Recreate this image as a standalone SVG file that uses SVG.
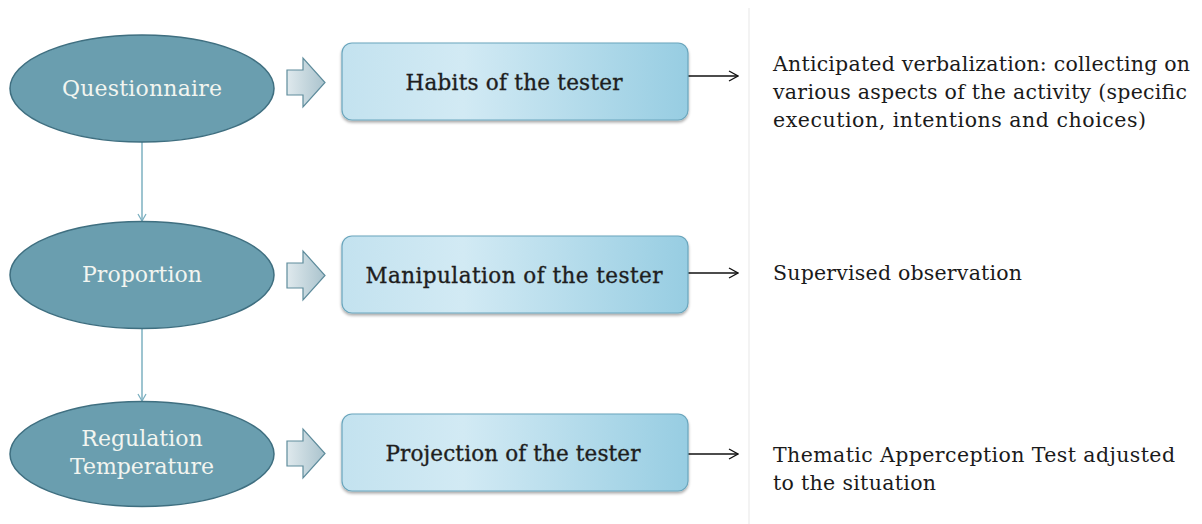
<svg xmlns="http://www.w3.org/2000/svg" width="1202" height="524" viewBox="0 0 1202 524">
<style>
.ell{fill:#6a9eaf;stroke:#3f6f80;stroke-width:1.5}
.etxt{font-family:"DejaVu Serif","Liberation Serif",serif;font-size:22px;fill:#f2f5f0;text-anchor:middle}
.box{fill:url(#boxg);stroke:#6aa6bd;stroke-width:1.2;filter:url(#sh)}
.btxt{font-family:"DejaVu Serif","Liberation Serif",serif;font-size:21.5px;fill:#1e1e1e;text-anchor:middle;stroke:#1e1e1e;stroke-width:0.35}
.blk{fill:url(#blkg);stroke:#5e8c9c;stroke-width:1.2}
.rtxt{font-family:"DejaVu Serif","Liberation Serif",serif;font-size:20.5px;fill:#1a1a1a}
.vcon{stroke:#7cb0c1;stroke-width:1.5;fill:none;marker-end:url(#va)}
.hcon{stroke:#111;stroke-width:1.3;fill:none;marker-end:url(#ha)}
</style>
<defs>
<linearGradient id="boxg" x1="0" y1="0" x2="1" y2="0">
<stop offset="0" stop-color="#c3e2ef"/>
<stop offset="0.35" stop-color="#d2eaf4"/>
<stop offset="1" stop-color="#97cde2"/>
</linearGradient>
<linearGradient id="blkg" x1="0" y1="0" x2="1" y2="0">
<stop offset="0" stop-color="#dfe9ed"/>
<stop offset="1" stop-color="#aac3cd"/>
</linearGradient>
<filter id="sh" x="-5%" y="-10%" width="110%" height="130%">
<feGaussianBlur in="SourceAlpha" stdDeviation="1.5"/>
<feOffset dx="0" dy="2" result="b"/>
<feComponentTransfer><feFuncA type="linear" slope="0.35"/></feComponentTransfer>
<feMerge><feMergeNode/><feMergeNode in="SourceGraphic"/></feMerge>
</filter>
<marker id="va" markerWidth="10" markerHeight="10" refX="8" refY="5" orient="auto" markerUnits="userSpaceOnUse">
<path d="M1,1 L8,5 L1,9" fill="none" stroke="#7cb0c1" stroke-width="1.3"/>
</marker>
<marker id="ha" markerWidth="12" markerHeight="12" refX="11" refY="6" orient="auto" markerUnits="userSpaceOnUse">
<path d="M2,1 L11,6 L2,11" fill="none" stroke="#111" stroke-width="1.3"/>
</marker>
</defs>
<rect width="1202" height="524" fill="#ffffff"/>
<line x1="749" y1="8" x2="749" y2="524" stroke="#efefef" stroke-width="1.5"/>

<g id="connectors">
<line class="vcon" x1="142" y1="142" x2="142" y2="221"/>
<line class="vcon" x1="142" y1="328" x2="142" y2="401"/>
<line class="hcon" x1="688" y1="76" x2="738" y2="76"/>
<line class="hcon" x1="688" y1="273" x2="738" y2="273"/>
<line class="hcon" x1="688" y1="454" x2="738" y2="454"/>
<path class="blk" d="M287,70 L303,70 L303,58 L325,82.5 L303,107 L303,95 L287,95 Z"/>
<path class="blk" d="M287,263 L303,263 L303,251 L325,275.5 L303,300 L303,288 L287,288 Z"/>
<path class="blk" d="M287,441 L303,441 L303,429 L325,453.5 L303,478 L303,466 L287,466 Z"/>
</g>

<g id="questionnaire">
<ellipse class="ell" cx="142" cy="88.5" rx="132" ry="53.5"/>
<text class="etxt" x="142" y="96" textLength="160">Questionnaire</text>
</g>
<g id="proportion">
<ellipse class="ell" cx="142" cy="275" rx="132" ry="53.5"/>
<text class="etxt" x="142" y="282" textLength="120">Proportion</text>
</g>
<g id="regulation">
<ellipse class="ell" cx="142" cy="454" rx="132" ry="52.5"/>
<text class="etxt" x="142" y="446">Regulation</text>
<text class="etxt" x="142" y="474">Temperature</text>
</g>

<g id="habits">
<rect class="box" x="342" y="43" width="346" height="77" rx="10"/>
<text class="btxt" x="514" y="90" textLength="217">Habits of the tester</text>
</g>
<g id="manipulation">
<rect class="box" x="342" y="236" width="346" height="77" rx="10"/>
<text class="btxt" x="514" y="283" textLength="297">Manipulation of the tester</text>
</g>
<g id="projection">
<rect class="box" x="342" y="414" width="346" height="77" rx="10"/>
<text class="btxt" x="513" y="461" textLength="255">Projection of the tester</text>
</g>

<g id="desc1">
<text class="rtxt" x="773" y="71" textLength="417">Anticipated verbalization: collecting on</text>
<text class="rtxt" x="773" y="99" textLength="414">various aspects of the activity (specific</text>
<text class="rtxt" x="773" y="127" textLength="373">execution, intentions and choices)</text>
</g>
<g id="desc2">
<text class="rtxt" x="773" y="280" textLength="249">Supervised observation</text>
</g>
<g id="desc3">
<text class="rtxt" x="773" y="462" textLength="402">Thematic Apperception Test adjusted</text>
<text class="rtxt" x="773" y="490" textLength="163">to the situation</text>
</g>
</svg>
